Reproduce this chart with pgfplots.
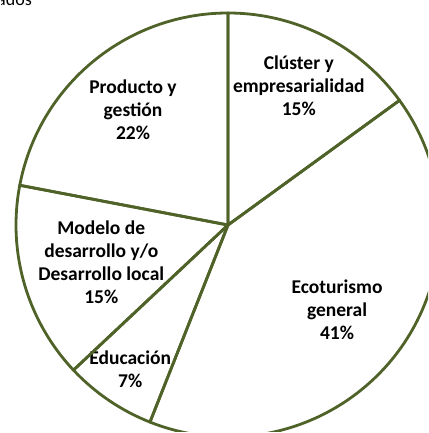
\documentclass[border=0pt]{standalone}
\usepackage{fontspec}
\setmainfont{Carlito}
\usepackage{pgfplots}
\pgfplotsset{compat=1.18}
\definecolor{edge}{HTML}{4F6228}
\newcommand\lbl{\bfseries\fontsize{19.5}{23}\selectfont}
\newcommand\ang{90}
\begin{document}
\begin{tikzpicture}
\begin{axis}[
    x=1pt, y=1pt,
    scale only axis,
    xmin=0, xmax=428, ymin=0, ymax=433,
    hide axis,
    clip=true,
]
% pie centre (228,208), radius 212; slices clockwise from 12 o'clock
% value / label distance / label
\foreach \v/\d/\lab in {
    15/156/{Clúster y\\empresarialidad},
    41/138/{Ecoturismo\\general},
    7/174/{Educación},
    15/132/{Modelo de\\desarrollo y/o\\Desarrollo local},
    22/149/{Producto y\\gestión}} {
  \pgfmathsetmacro\a{\ang}
  \pgfmathsetmacro\b{\ang-3.6*\v}
  \pgfmathsetmacro\m{(\a+\b)/2}
  \pgfmathsetmacro\lx{228+\d*cos(\m)}
  \pgfmathsetmacro\ly{208+\d*sin(\m)}
  \pgfmathtruncatemacro\pv{\v}
  \edef\temp{%
    \noexpand\draw[edge, line width=2.8pt, line join=round]
      (axis cs:228,208) -- ++(\a:212pt)
      arc[start angle=\a, end angle=\b, radius=212pt] -- cycle;
    \noexpand\node[align=center, font=\noexpand\lbl, inner sep=0pt]
      at (axis cs:\lx,\ly)
      {\unexpanded\expandafter{\lab}\noexpand\\\pv\noexpand\%};
  }
  \temp
  \xdef\ang{\b}
}
\node[anchor=base west, inner sep=0pt, font=\fontsize{18}{22}\selectfont]
  at (axis cs:-3,427.5) {ados};
% white frame, keeps the full page area
\draw[white, line width=1pt] (axis cs:0,0) rectangle (axis cs:428,433);
\end{axis}
\pgfresetboundingbox
\path[use as bounding box] (current axis.south west) rectangle (current axis.north east);
\end{tikzpicture}
\end{document}
